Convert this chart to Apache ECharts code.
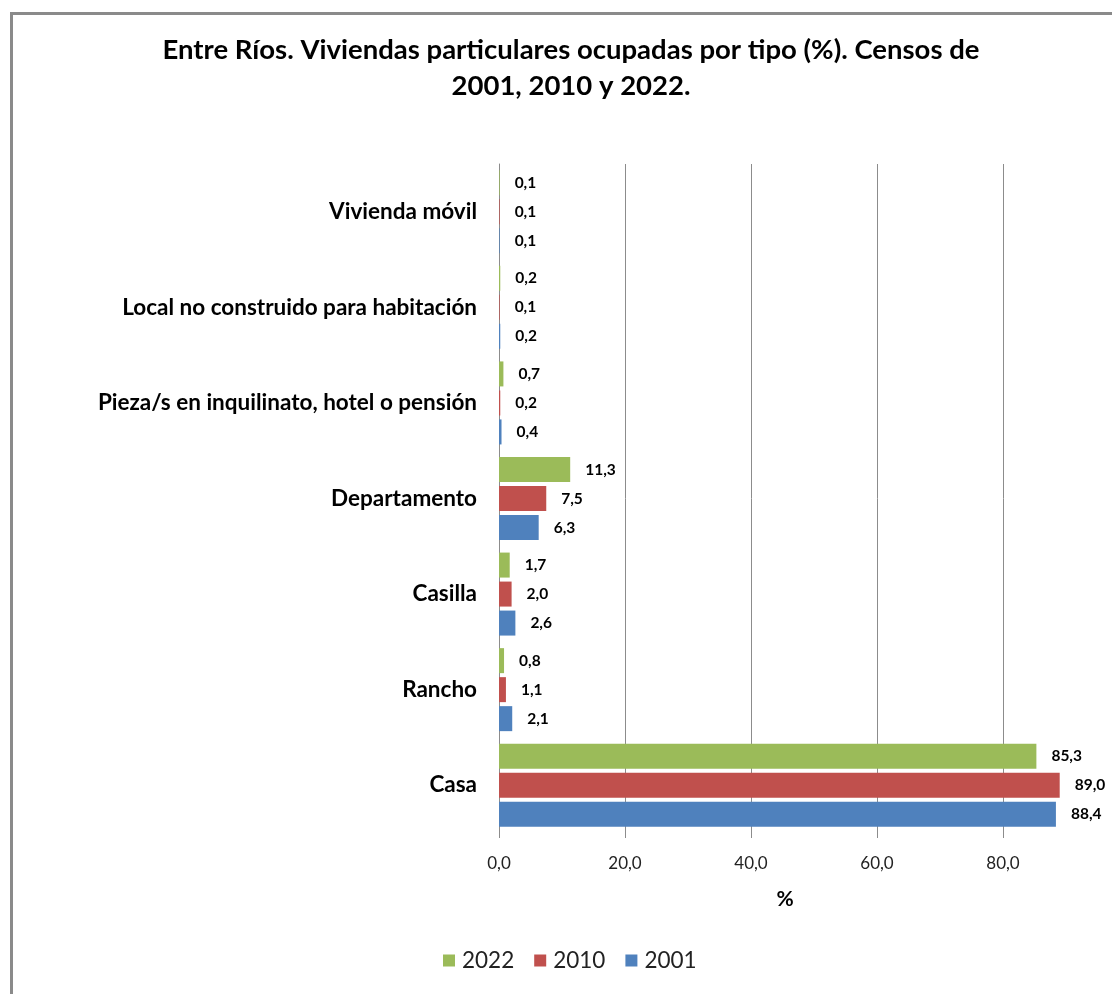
<!DOCTYPE html>
<html>
<head>
<meta charset="utf-8">
<script src="https://cdn.jsdelivr.net/npm/echarts@6/dist/echarts.min.js"></script>
<style>
html,body{margin:0;padding:0;background:#fff;}
#c{width:1112px;height:994px;}
</style>
</head>
<body>
<div id="c"></div>
<script>
const categories = ['Casa', 'Rancho', 'Casilla', 'Departamento', 'Pieza/s en inquilinato, hotel o pensión', 'Local no construido para habitación', 'Vivienda móvil'];
const seriesNames = ['2022', '2010', '2001'];
const values2022 = [85.3, 0.8, 1.7, 11.3, 0.7, 0.2, 0.1];
const values2010 = [89.0, 1.1, 2.0, 7.5, 0.2, 0.1, 0.1];
const values2001 = [88.4, 2.1, 2.6, 6.3, 0.4, 0.2, 0.1];
const xTicks = [0, 20, 40, 60, 80, 100];
const colors = ['#9BBB59', '#C0504D', '#4F81BD'];

const FONT = 'Lato';
const fmt = v => v.toFixed(1).replace('.', ',');
const allValues = [values2022, values2010, values2001];

const chart = echarts.init(document.getElementById('c'), null, {renderer: 'canvas'});
chart.setOption({
  animation: false,
  backgroundColor: '#fff',
  textStyle: {fontFamily: FONT},
  graphic: [{
    type: 'rect', left: 9, top: 11,
    shape: {width: 1200, height: 1100},
    style: {fill: 'none', stroke: '#8a8a8a', lineWidth: 3}
  }],
  title: {
    text: 'Entre Ríos. Viviendas particulares ocupadas por tipo (%). Censos de\n2001, 2010 y 2022.',
    left: 566, top: 27, textAlign: 'center',
    textStyle: {fontFamily: FONT, fontSize: 27.5, fontWeight: 'bold', color: '#000', lineHeight: 36}
  },
  legend: {
    data: seriesNames,
    left: 438, top: 944,
    icon: 'rect', itemWidth: 12, itemHeight: 12, itemGap: 20,
    textStyle: {fontFamily: FONT, fontSize: 22.5, color: '#222', padding: [0, 0, 0, 2]}
  },
  grid: {left: 499, top: 164, width: 630, height: 669, containLabel: false, outerBoundsMode: 'none'},
  xAxis: {
    type: 'value', min: xTicks[0], max: xTicks[xTicks.length - 1], interval: 20,
    name: '%', nameLocation: 'middle', nameGap: 56,
    nameTextStyle: {fontFamily: FONT, fontSize: 21, fontWeight: 'bold', color: '#000', padding: [0, 58, 0, 0]},
    axisLine: {show: false},
    axisTick: {show: true, length: 5, lineStyle: {color: '#8c8c8c'}},
    axisLabel: {fontFamily: FONT, fontSize: 17, color: '#222', margin: 22, showMaxLabel: false,
      formatter: v => fmt(v)},
    splitLine: {show: true, lineStyle: {color: '#8c8c8c', width: 1}}
  },
  yAxis: {
    type: 'category', data: categories,
    axisLine: {show: true, lineStyle: {color: '#8c8c8c', width: 1}},
    axisTick: {show: false},
    axisLabel: {fontFamily: FONT, fontSize: 22.5, fontWeight: 'bold', color: '#000', margin: 22}
  },
  series: seriesNames.map((n, i) => ({
    name: n, type: 'bar',
    data: allValues[i],
    barWidth: 25, barGap: '16%',
    itemStyle: {color: colors[i]},
    label: {show: true, position: 'right', distance: 15,
      fontFamily: FONT, fontSize: 15.5, fontWeight: 'bold', color: '#000',
      formatter: p => fmt(p.value)}
  }))
});
</script>
</body>
</html>
